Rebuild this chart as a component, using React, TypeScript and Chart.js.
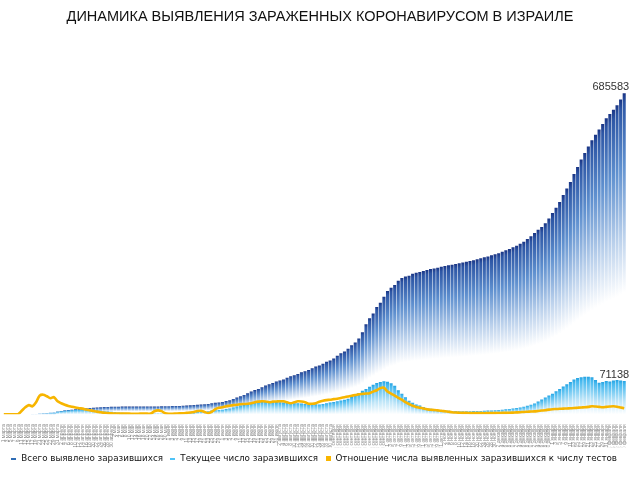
import React, { useEffect, useRef } from "react";
import { Chart, registerables } from "chart.js";

Chart.register(...registerables);

const TITLE = "ДИНАМИКА ВЫЯВЛЕНИЯ ЗАРАЖЕННЫХ КОРОНАВИРУСОМ В ИЗРАИЛЕ";
const SERIES_TOTAL = "Всего выявлено заразившихся";
const SERIES_ACTIVE = "Текущее число заразившихся";
const SERIES_RATIO = "Отношение числа выявленных заразившихся к числу тестов";

const MAR = [1, 3, 5, 7, 9, 11, 13, 15, 17, 19, 21, 23, 25, 27, 29, 31];
const APR = [2, 4, 6, 8, 10, 12, 14, 16, 18, 20, 22, 24, 26, 28, 30];
const MAY = [2, 4, 6, 8, 10, 12, 14, 16, 18, 20, 22, 24, 26, 28, 30];
const JUN = [1, 3, 5, 7, 9, 11, 13, 15, 17, 19, 21, 23, 25, 27, 29];
const JUL = [1, 3, 5, 7, 9, 11, 13, 15, 17, 19, 21, 23, 25, 27, 29, 31];
const AUG = [2, 4, 6, 8, 10, 12, 14, 16, 18, 20, 22, 24, 26, 28, 30];
const SEP = [1, 3, 5, 7, 9, 11, 13, 15, 17, 19, 21, 23, 25, 27, 29];
const OCT = [1, 3, 5, 7, 9, 11, 13, 15, 17, 19, 21, 23, 25, 27, 29, 31];
const NOV = [2, 4, 6, 8, 10, 12, 14, 16, 18, 20, 22, 24, 26, 28, 30];
const DEC = [2, 4, 6, 8, 10, 12, 14, 16, 18, 20, 22, 24, 26, 28, 30];
const JAN = [1, 3, 5, 7, 9, 11, 13, 15, 17, 19, 21, 23, 25, 27, 29, 31];
const FEB = [2, 4, 6, 8, 10];

const TICK_LABELS: string[] = [
  ...MAR.map((d) => `${d} марта`),
  ...APR.map((d) => `${d} апреля`),
  ...MAY.map((d) => `${d} мая`),
  ...JUN.map((d) => `${d} июня`),
  ...JUL.map((d) => `${d} июля`),
  ...AUG.map((d) => `${d} августа`),
  ...SEP.map((d) => `${d} сентября`),
  ...OCT.map((d) => `${d} октября`),
  ...NOV.map((d) => `${d} ноября`),
  ...DEC.map((d) => `${d} декабря`),
  ...JAN.map((d) => `${d} января`),
  ...FEB.map((d) => `${d} февраля`),
];

const TOTAL = [
  10, 12, 17, 25, 50, 97, 143, 250, 337, 677, 883, 1442, 2369, 3035, 3865, 5358,
  6857, 7851, 8904, 9755, 10505, 11145, 12046, 12758, 13265, 13654, 14326, 14882, 15298, 15589, 15946,
  16185, 16246, 16436, 16477, 16529, 16589, 16643, 16659, 16690, 16712, 16734, 16757, 16793, 16887, 17071,
  17285, 17495, 17752, 17863, 18269, 18569, 18972, 19495, 20137, 20778, 21512, 22044, 23497, 24338, 25244,
  26257, 28055, 30035, 32714, 35533, 38670, 41235, 44714, 48459, 51537, 54042, 57903, 61539, 64281, 66652, 69864,
  72112, 74430, 77952, 81365, 83490, 86168, 89690, 91857, 94460, 98380, 101782, 104059, 107888, 111966, 114945,
  119033, 125042, 130305, 134060, 140084, 147520, 153217, 162000, 175000, 192000, 205000, 215000, 229000, 238000, 251000,
  263000, 270000, 276000, 285000, 291000, 294000, 296000, 300000, 302000, 304000, 306000, 308000, 310000, 311500, 313000, 315000,
  316500, 318000, 319500, 321000, 322500, 324000, 325500, 327000, 329000, 331000, 333000, 335000, 337000, 339500, 341500,
  344000, 347000, 350000, 353000, 356500, 360000, 364000, 368500, 374000, 380000, 387000, 394000, 400000, 408000, 418000,
  430000, 441000, 453000, 468000, 482000, 496000, 513000, 528000, 544000, 558000, 572000, 585000, 597000, 608000, 620000, 632000,
  641000, 650000, 660000, 672000, 685583,
];

const ACTIVE = [
  10, 12, 15, 23, 45, 90, 130, 240, 320, 650, 850, 1400, 2300, 2950, 3750, 5150,
  6500, 7400, 8200, 8800, 9200, 9400, 9700, 9600, 9300, 8800, 8200, 7500, 6600, 5900, 5300,
  4700, 4200, 3700, 3100, 2700, 2400, 2100, 1900, 1700, 1600, 1500, 1400, 1400, 1500, 1700,
  1900, 2100, 2400, 2500, 2900, 3200, 3600, 4100, 4700, 5300, 6000, 6500, 7800, 8600, 9000,
  9800, 11000, 12500, 14500, 16500, 18500, 20000, 22000, 24000, 25500, 26500, 27000, 27500, 27000, 26500, 26000,
  25500, 25000, 24500, 24000, 23500, 23500, 23000, 22000, 21000, 21500, 21500, 21000, 22000, 23500, 25000,
  26000, 28000, 29500, 31000, 33000, 37000, 41000, 45500, 50000, 54000, 58500, 63000, 66500, 69000, 70500,
  69500, 66000, 61000, 51000, 44000, 36500, 29000, 24500, 21000, 18500, 15500, 13000, 11500, 10000, 9000, 8300,
  7800, 7400, 7000, 6800, 6600, 6500, 6500, 6600, 6700, 6900, 7100, 7400, 7800, 8200, 8700,
  9200, 9800, 10500, 11300, 12200, 13200, 14300, 16000, 18000, 20500, 23000, 27000, 31500, 36000, 40000,
  44000, 49000, 54000, 59500, 64000, 69000, 74000, 77500, 79000, 80000, 80000, 79000, 73000, 67000, 69000, 71000,
  70000, 72000, 73000, 72000, 71138,
];

const RATIO = [
  0, 0, 0, 0, 0.1, 1.8, 3.6, 4.7, 4.1, 6.2, 9.6, 10.1, 9.3, 8.3, 8.8, 6.7,
  5.7, 4.9, 4.3, 3.9, 3.5, 3.1, 2.9, 2.4, 2.1, 1.7, 1.35, 1.0, 0.8, 0.6, 0.45,
  0.4, 0.35, 0.3, 0.3, 0.3, 0.25, 0.25, 0.3, 0.3, 0.3, 0.35, 1.55, 2.0, 1.6, 0.5,
  0.2, 0.25, 0.35, 0.45, 0.5, 0.7, 0.9, 1.2, 1.65, 1.8, 1.15, 0.6, 1.3, 2.6, 3.3,
  3.6, 4.1, 4.4, 4.7, 4.9, 5.2, 5.3, 5.4, 5.7, 6.2, 6.5, 6.7, 6.6, 6.2, 6.5, 6.6,
  6.7, 6.7, 6.2, 5.7, 6.2, 6.7, 6.6, 6.2, 5.4, 5.4, 5.7, 6.5, 7.0, 7.3, 7.5,
  7.8, 8.0, 8.4, 8.8, 9.2, 9.6, 9.9, 10.3, 10.5, 10.7, 10.9, 11.7, 12.4, 13.5, 13.7,
  11.7, 10.6, 9.6, 8.5, 7.5, 6.2, 5.3, 4.4, 3.8, 3.4, 3.0, 2.6, 2.3, 2.2, 2.0, 1.8,
  1.55, 1.3, 1.05, 0.9, 0.8, 0.7, 0.7, 0.6, 0.6, 0.6, 0.6, 0.55, 0.6, 0.6, 0.6,
  0.65, 0.7, 0.7, 0.75, 0.85, 0.95, 1.05, 1.2, 1.3, 1.4, 1.5, 1.7, 1.9, 2.1, 2.4,
  2.6, 2.7, 2.8, 2.9, 3.0, 3.1, 3.2, 3.35, 3.5, 3.6, 3.8, 4.1, 4.0, 3.8, 3.6, 3.8,
  4.0, 4.1, 3.9, 3.5, 3.1,
];

const Y_MAX = 809000;
const Y2_MAX = 195.6;

function makeSwatch(w: number, h: number, color: string): HTMLCanvasElement {
  const c = document.createElement("canvas");
  c.width = w;
  c.height = h;
  const g = c.getContext("2d")!;
  g.fillStyle = color;
  g.fillRect(0, 0, w, h);
  return c;
}

function totalGradient(c: any) {
  const chart = c.chart;
  const ys = chart.scales && chart.scales.y;
  const v = c.parsed ? c.parsed.y : c.raw;
  if (!chart.chartArea || !ys || v == null) return "#3d6fb8";
  const top = ys.getPixelForValue(v);
  const base = ys.getPixelForValue(0);
  const h = base - top;
  if (h < 2) return "#7fa5d8";
  const g = chart.ctx.createLinearGradient(0, top, 0, top + h * 0.62);
  g.addColorStop(0, "#1a3585");
  g.addColorStop(0.05, "#2d56a5");
  g.addColorStop(0.35, "#5f90cf");
  g.addColorStop(0.7, "#b8cfeb");
  g.addColorStop(1, "#ffffff");
  return g;
}

function activeGradient(c: any) {
  const chart = c.chart;
  const ys = chart.scales && chart.scales.y;
  const v = c.parsed ? c.parsed.y : c.raw;
  if (!chart.chartArea || !ys || v == null) return "#3fb7ee";
  const top = ys.getPixelForValue(v);
  const base = ys.getPixelForValue(0);
  const h = base - top;
  if (h < 2) return "#8fd3f5";
  const g = chart.ctx.createLinearGradient(0, top, 0, base);
  g.addColorStop(0, "#26a3e2");
  g.addColorStop(0.1, "#46b9ef");
  g.addColorStop(0.6, "#bde5f8");
  g.addColorStop(1, "#ffffff");
  return g;
}

const valueLabels = {
  id: "valueLabels",
  afterDatasetsDraw(chart: any) {
    const ctx = chart.ctx;
    ctx.save();
    ctx.font = '11px "Liberation Sans", Arial, sans-serif';
    ctx.fillStyle = "#333333";
    ctx.textAlign = "right";
    ctx.textBaseline = "alphabetic";
    [0, 1].forEach((i) => {
      const meta = chart.getDatasetMeta(i);
      const data = chart.data.datasets[i].data;
      const el = meta.data[meta.data.length - 1];
      if (!el) return;
      ctx.fillText(String(data[data.length - 1]), el.x + 5, el.y - 3);
    });
    ctx.restore();
  },
};

const pageTitle = {
  id: "pageTitle",
  afterDraw(chart: any) {
    const ctx = chart.ctx;
    ctx.save();
    ctx.font = '14.5px "Liberation Sans", Arial, sans-serif';
    ctx.fillStyle = "#111111";
    ctx.textAlign = "center";
    ctx.textBaseline = "middle";
    ctx.fillText(TITLE, chart.width / 2, 17);
    ctx.restore();
  },
};

export default function App() {
  const ref = useRef<HTMLCanvasElement | null>(null);

  useEffect(() => {
    if (!ref.current) return;
    const swatches = [
      makeSwatch(5, 2, "#2f6db5"),
      makeSwatch(5, 2, "#4fc3f7"),
      makeSwatch(5, 5, "#f9b500"),
    ];
    const chart = new Chart(ref.current, {
      type: "bar",
      data: {
        labels: TICK_LABELS,
        datasets: [
          {
            type: "bar",
            label: SERIES_TOTAL,
            data: TOTAL,
            backgroundColor: totalGradient as any,
            borderWidth: 0,
            barPercentage: 0.86,
            categoryPercentage: 1,
            grouped: false,
            order: 2,
            yAxisID: "y",
          },
          {
            type: "bar",
            label: SERIES_ACTIVE,
            data: ACTIVE,
            backgroundColor: activeGradient as any,
            borderWidth: 0,
            barPercentage: 0.86,
            categoryPercentage: 1,
            grouped: false,
            order: 1,
            yAxisID: "y",
          },
          {
            type: "line",
            label: SERIES_RATIO,
            data: RATIO,
            borderColor: "#f7b500",
            backgroundColor: "#f7b500",
            borderWidth: 2.6,
            pointRadius: 0,
            tension: 0.3,
            order: 0,
            yAxisID: "y2",
          } as any,
        ],
      },
      options: {
        animation: false,
        responsive: false,
        maintainAspectRatio: false,
        layout: { padding: { left: 2, right: 14, top: 35.4, bottom: 7 } },
        plugins: {
          title: { display: false },
          legend: {
            position: "bottom",
            labels: {
              usePointStyle: true,
              boxWidth: 6,
              boxHeight: 6,
              padding: 7,
              color: "#111111",
              font: { family: '"DejaVu Sans", Verdana, sans-serif', size: 8.75 },
              generateLabels: () =>
                [SERIES_TOTAL, SERIES_ACTIVE, SERIES_RATIO].map((t, i) => ({
                  text: t,
                  datasetIndex: i,
                  fillStyle: "#000",
                  strokeStyle: "#000",
                  lineWidth: 0,
                  hidden: false,
                  pointStyle: swatches[i] as any,
                  fontColor: "#111111",
                })),
            },
          },
          tooltip: { enabled: false },
        },
        scales: {
          x: {
            grid: { display: false },
            border: { display: false },
            ticks: {
              autoSkip: false,
              maxRotation: 90,
              minRotation: 90,
              padding: 2,
              color: "#888888",
              font: { family: '"Liberation Sans", Arial, sans-serif', size: 5 },
            },
            afterFit: (scale: any) => {
              scale.height = 33;
            },
          },
          y: {
            display: false,
            min: 0,
            max: Y_MAX,
          },
          y2: {
            display: false,
            min: 0,
            max: Y2_MAX,
            position: "right",
          },
        },
      },
      plugins: [valueLabels, pageTitle],
    });
    return () => chart.destroy();
  }, []);

  return (
    <div style={{ position: "fixed", left: 0, top: 0, width: 640, height: 480, background: "#ffffff" }}>
      <canvas ref={ref} width={640} height={480} style={{ display: "block", width: 640, height: 480 }} />
    </div>
  );
}
